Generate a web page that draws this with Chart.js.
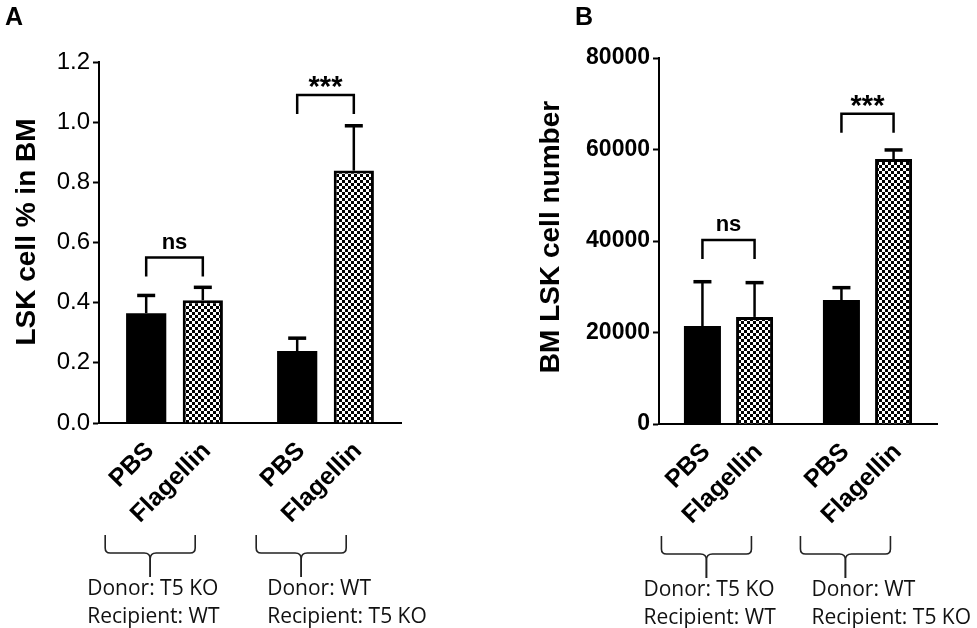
<!DOCTYPE html>
<html>
<head>
<meta charset="utf-8">
<script src="https://cdn.jsdelivr.net/npm/chart.js@4.4.1/dist/chart.umd.min.js"></script>
<style>
  body { margin: 0; background: #fff; width: 977px; height: 628px; overflow: hidden; position: relative; }
  canvas { position: absolute; top: 0; }
  #chartA { left: 0; }
  #chartB { left: 480px; }
</style>
</head>
<body>
<canvas id="chartA" width="470" height="628"></canvas>
<canvas id="chartB" width="497" height="628"></canvas>
<script>
// groups (donor -> recipient) and treatments
const groups = ["T5KO->WT", "WT->T5KO"];
const treatments = ["PBS", "Flagellin"];
const groupText = [
  ["Donor: T5 KO", "Recipient: WT"],
  ["Donor: WT", "Recipient: T5 KO"],
];

// panel A: LSK cell % in BM
const pctPBS = [0.365, 0.239];
const pctPBSErr = [0.059, 0.043];
const pctFla = [0.408, 0.839];
const pctFlaErr = [0.043, 0.149];
const pctSig = ["ns", "***"];
const pctSigY = [0.55, 1.09];

// panel B: BM LSK cell number
const numPBS = [21400, 27100];
const numPBSErr = [9700, 2700];
const numFla = [23400, 57900];
const numFlaErr = [7500, 2000];
const numSig = ["ns", "***"];
const numSigY = [40200, 67800];

const SANS = "'Liberation Sans', Arial, sans-serif";

function checker() {
  const c = document.createElement("canvas");
  c.width = 6; c.height = 6;
  const g = c.getContext("2d");
  g.fillStyle = "#fff"; g.fillRect(0, 0, 6, 6);
  g.fillStyle = "#000";
  g.fillRect(0, 0, 3, 3);
  g.fillRect(3, 3, 3, 3);
  return g.createPattern(c, "repeat");
}

const extras = {
  id: "extras",
  afterDatasetsDraw(chart, args, o) {
    const ctx = chart.ctx;
    const ys = chart.scales.y;
    const axisY = chart.chartArea.bottom;
    const m0 = chart.getDatasetMeta(0).data;
    const m1 = chart.getDatasetMeta(1).data;
    ctx.save();
    ctx.strokeStyle = "#000";
    ctx.fillStyle = "#000";

    // error bars (upper only)
    [[m0, o.err[0], o.vals[0]], [m1, o.err[1], o.vals[1]]].forEach(([meta, err, vals]) => {
      meta.forEach((bar, i) => {
        const top = ys.getPixelForValue(vals[i] + err[i]);
        ctx.lineWidth = 2.5;
        ctx.beginPath();
        ctx.moveTo(bar.x, bar.y);
        ctx.lineTo(bar.x, top);
        ctx.stroke();
        ctx.lineWidth = 3.5;
        ctx.beginPath();
        ctx.moveTo(bar.x - 9, top);
        ctx.lineTo(bar.x + 9, top);
        ctx.stroke();
      });
    });

    // significance brackets
    groups.forEach((g, i) => {
      const x1 = m0[i].x, x2 = m1[i].x;
      const y = ys.getPixelForValue(o.sigY[i]);
      ctx.lineWidth = 2.5;
      ctx.beginPath();
      ctx.moveTo(x1, y + 19);
      ctx.lineTo(x1, y);
      ctx.lineTo(x2, y);
      ctx.lineTo(x2, y + 19);
      ctx.stroke();
      ctx.textAlign = "center";
      ctx.textBaseline = "alphabetic";
      if (o.sig[i] === "ns") {
        ctx.font = "bold 22px " + SANS;
        ctx.fillText(o.sig[i], (x1 + x2) / 2, y - 9);
      } else {
        ctx.font = "bold 29px " + SANS;
        ctx.fillText(o.sig[i], (x1 + x2) / 2, y + 1);
      }
    });

    // rotated treatment labels
    ctx.font = "bold 25px " + SANS;
    [m0, m1].forEach((meta, d) => {
      meta.forEach((bar) => {
        ctx.save();
        ctx.translate(bar.x + 4, axisY + 24);
        ctx.rotate(-Math.PI / 4);
        ctx.textAlign = "right";
        ctx.textBaseline = "middle";
        ctx.fillText(treatments[d], 0, 0);
        ctx.restore();
      });
    });

    // group braces and text
    const y0 = axisY + 112, yH = axisY + 130, yT = axisY + 154;
    ctx.strokeStyle = "#222";
    ctx.lineWidth = 1.6;
    groups.forEach((g, i) => {
      const t = m0[i].x + 4;
      [-1, 1].forEach((s) => {
        ctx.beginPath();
        ctx.moveTo(t + s * 45, y0);
        ctx.lineTo(t + s * 45, yH - 5);
        ctx.quadraticCurveTo(t + s * 45, yH, t + s * 40, yH);
        ctx.lineTo(t + s * 6, yH);
        ctx.quadraticCurveTo(t, yH, t, yH + 6);
        ctx.lineTo(t, yT);
        ctx.stroke();
      });
      ctx.fillStyle = "#111";
      ctx.font = "21px 'Open Sans', sans-serif";
      ctx.textAlign = "left";
      ctx.textBaseline = "alphabetic";
      const tx = t + (i === 0 ? -63 : -34);
      ctx.fillText(groupText[i][0], tx, axisY + 172);
      ctx.fillText(groupText[i][1], tx, axisY + 200);
    });

    // y axis title
    ctx.fillStyle = "#000";
    ctx.save();
    ctx.translate(o.titlePos[0], o.titlePos[1]);
    ctx.rotate(-Math.PI / 2);
    ctx.font = "bold 28px " + SANS;
    ctx.textAlign = "center";
    ctx.textBaseline = "middle";
    ctx.fillText(o.title, 0, 0);
    ctx.restore();

    // panel letter
    ctx.font = "bold 25px " + SANS;
    ctx.textAlign = "left";
    ctx.textBaseline = "alphabetic";
    ctx.fillText(o.letter, o.letterX, 25);
    ctx.restore();
  },
};

function makeChart(id, p) {
  return new Chart(document.getElementById(id), {
    type: "bar",
    data: {
      labels: groups,
      datasets: [
        { label: "PBS", data: p.vals[0], backgroundColor: "#000", borderWidth: 0,
          categoryPercentage: 0.75, barPercentage: 0.71 },
        { label: "Flagellin", data: p.vals[1], backgroundColor: checker(), borderColor: "#000",
          borderWidth: 3, categoryPercentage: 0.75, barPercentage: 0.71 },
      ],
    },
    options: {
      responsive: false,
      animation: false,
      layout: { padding: p.padding },
      plugins: { legend: { display: false }, tooltip: { enabled: false }, extras: p },
      scales: {
        x: {
          offset: true,
          grid: { display: false, drawTicks: false },
          border: { color: "#000", width: 2 },
          ticks: { display: false },
        },
        y: {
          min: 0,
          max: p.max,
          ticks: {
            stepSize: p.step,
            color: "#000",
            padding: 3,
            font: p.tickFont,
            callback: p.fmt,
          },
          grid: { drawOnChartArea: false, drawTicks: true, tickLength: 6, tickWidth: 2, tickColor: "#000" },
          border: { color: "#000", width: 2 },
          afterFit: (s) => { s.width = p.axisX; },
        },
      },
    },
    plugins: [extras],
  });
}

makeChart("chartA", {
  vals: [pctPBS, pctFla], err: [pctPBSErr, pctFlaErr],
  sig: pctSig, sigY: pctSigY,
  max: 1.2, step: 0.2, fmt: (v) => v.toFixed(1),
  tickFont: { family: SANS, size: 24 },
  axisX: 99, padding: { top: 62, right: 69, bottom: 205, left: 0 },
  title: "LSK cell % in BM", titlePos: [27, 232],
  letter: "A", letterX: 5,
});

makeChart("chartB", {
  vals: [numPBS, numFla], err: [numPBSErr, numFlaErr],
  sig: numSig, sigY: numSigY,
  max: 80000, step: 20000, fmt: (v) => String(v),
  tickFont: { family: SANS, size: 23, weight: "bold" },
  axisX: 179, padding: { top: 58, right: 40, bottom: 204, left: 0 },
  title: "BM LSK cell number", titlePos: [71, 237],
  letter: "B", letterX: 95,
});
</script>
</body>
</html>
